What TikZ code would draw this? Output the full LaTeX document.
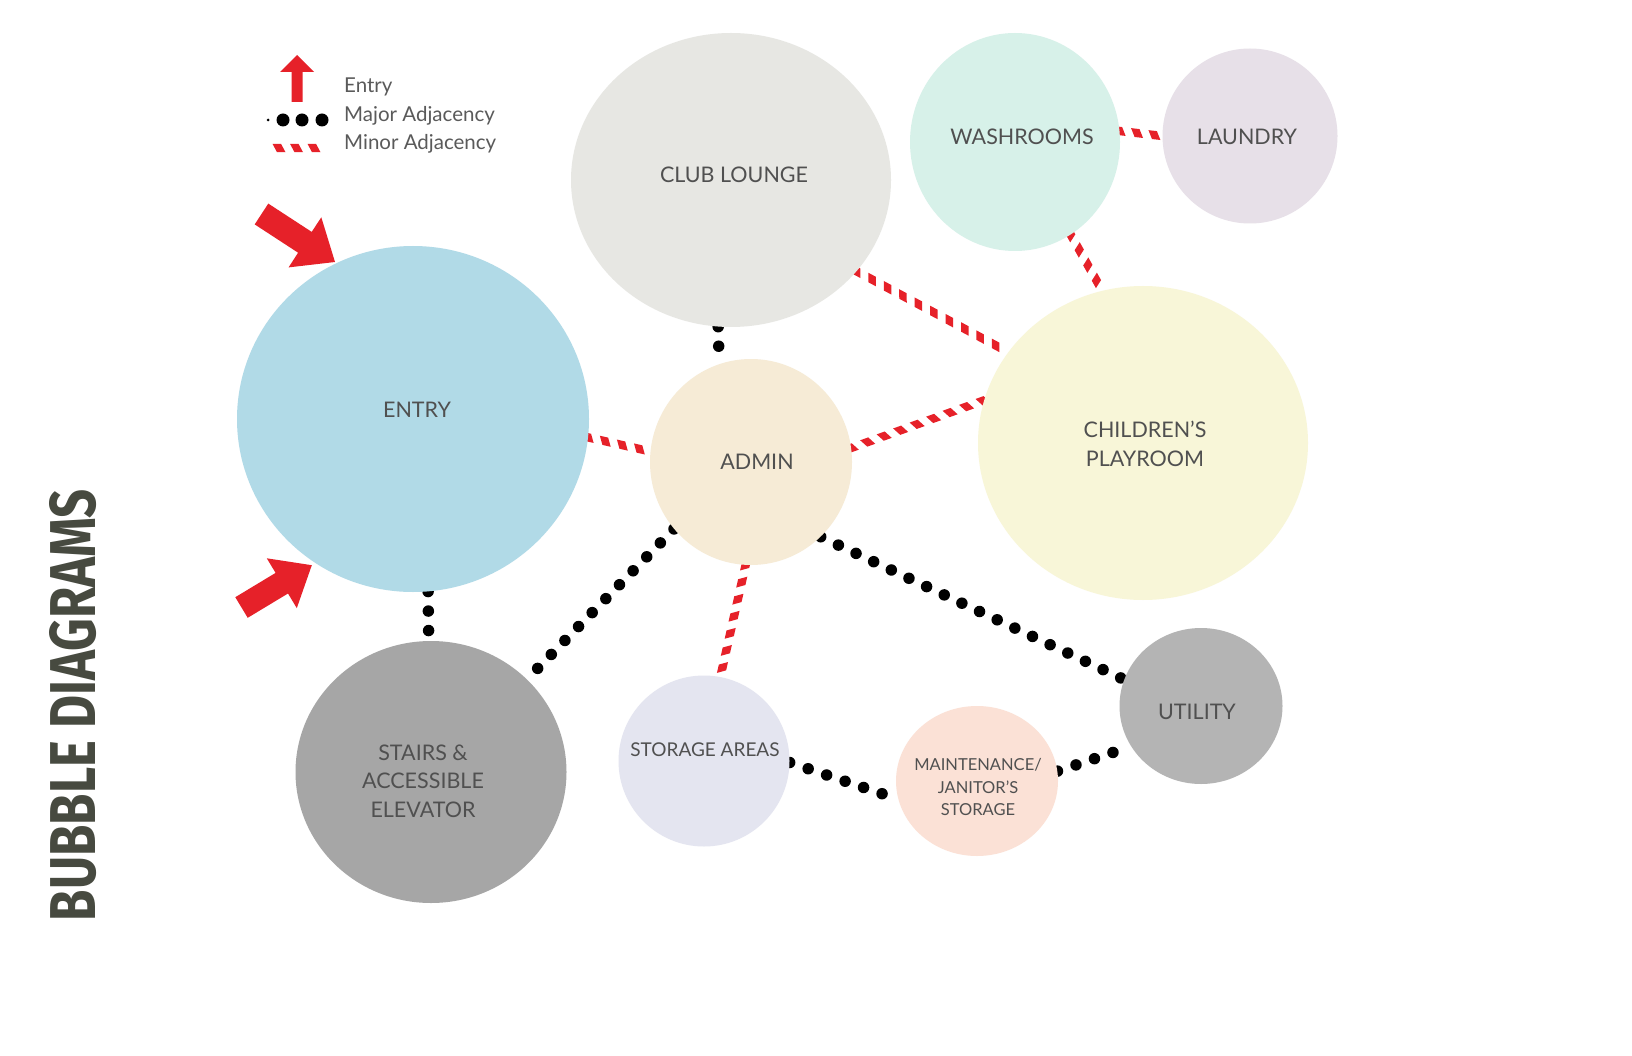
\documentclass[tikz,border=0pt]{standalone}
\usepackage{fontspec}
\usepackage{graphicx}
\setmainfont{Lato}
\newfontfamily\titlefont{Fira Sans}
\usetikzlibrary{shapes.geometric,decorations.markings}
\pgfdeclarelayer{background}
\pgfsetlayers{background,main}
\definecolor{cclub}{HTML}{E7E7E3}
\definecolor{cwash}{HTML}{D7F1E9}
\definecolor{claundry}{HTML}{E7E0E8}
\definecolor{centry}{HTML}{B1DAE7}
\definecolor{cadmin}{HTML}{F6EBD6}
\definecolor{cplay}{HTML}{F8F6D8}
\definecolor{cstairs}{HTML}{A6A6A6}
\definecolor{cstorage}{HTML}{E4E5F0}
\definecolor{cmaint}{HTML}{FBE1D6}
\definecolor{cutil}{HTML}{B4B4B4}
\definecolor{txt}{HTML}{505050}
\definecolor{legtxt}{HTML}{5A5A5A}
\definecolor{titlecol}{HTML}{474A40}
\definecolor{minred}{HTML}{E62129}
\tikzset{
  bubble/.style={ellipse, draw=none, inner sep=0pt},
  lbl/.style={text=txt, align=center, inner sep=0pt, font=\fontsize{21.5}{28.5}\selectfont},
  leglbl/.style={text=legtxt, anchor=base west, inner sep=0pt, font=\fontsize{20.5}{26}\selectfont},
  major/.style={draw=black, line width=11.5pt, line cap=round, dash pattern=on 0pt off 19.5pt},
  minor/.style={decorate, decoration={markings,
     mark=between positions 0 and 1 step 17.5pt with {\fill[minred] (-6.5,-4.2) -- (2,-4.2) -- (6.5,4.2) -- (-2,4.2) -- cycle;}}},
  redarrow/.style={fill=minred, draw=none}
}
\begin{document}
\begin{tikzpicture}[x=1pt,y=-1pt]
\useasboundingbox (0,0) rectangle (1632,1056);

% title
\node[rotate=90, text=titlecol, inner sep=0pt] (title) at (73,705)
  {\resizebox{432pt}{46pt}{\titlefont\bfseries BUBBLE DIAGRAMS}};

% legend
\fill[redarrow] (291.5,102) -- (291.5,72) -- (280,72) -- (297,55) -- (314,72) -- (302.5,72) -- (302.5,102) -- cycle;
\fill[black] (268,120) circle (1.5);
\fill[black] (283,120) circle (6.5);
\fill[black] (302,120) circle (6.5);
\fill[black] (322,120) circle (6.5);
\coordinate (lm1) at (279,148);
\coordinate (lm2) at (325,148);
\path[minor] (lm1) -- (lm2);
\node[leglbl] (leg1) at (344,93) {Entry};
\node[leglbl] (leg2) at (344,122) {Major Adjacency};
\node[leglbl] (leg3) at (344,150) {Minor Adjacency};

% entry arrows
\fill[redarrow] (268.3,203.6) -- (311.7,231.9) -- (321.3,217.3) -- (335,262) -- (288.6,267.4) -- (298.1,252.7) -- (254.7,224.4) -- cycle;
\fill[redarrow] (235.3,597.2) -- (275.6,572.9) -- (266.8,558.3) -- (311.8,565.2) -- (296.8,608.1) -- (288.0,593.5) -- (247.7,617.8) -- cycle;

% bubbles
\node[bubble, fill=cclub, minimum width=320pt, minimum height=294pt] (club) at (731,180) {};
\node[bubble, fill=cwash, minimum width=210pt, minimum height=218pt] (wash) at (1015,142) {};
\node[bubble, fill=claundry, minimum width=175pt, minimum height=175pt] (laundry) at (1250,136) {};
\node[bubble, fill=centry, minimum width=352pt, minimum height=346pt] (entry) at (413,419) {};
\node[bubble, fill=cadmin, minimum width=202pt, minimum height=206pt] (admin) at (751,462) {};
\node[bubble, fill=cplay, minimum width=330pt, minimum height=314pt] (play) at (1143,443) {};
\node[bubble, fill=cstairs, minimum width=271pt, minimum height=262pt] (stairs) at (431,772) {};
\node[bubble, fill=cstorage, minimum width=171pt, minimum height=171pt] (storage) at (704,761) {};
\node[bubble, fill=cmaint, minimum width=162pt, minimum height=150pt] (maint) at (977,781) {};
\node[bubble, fill=cutil, minimum width=163pt, minimum height=156pt] (utility) at (1201,706) {};

% labels
\node[lbl] (club-t) at (734,175) {CLUB LOUNGE};
\node[lbl] (wash-t) at (1022,137) {WASHROOMS};
\node[lbl] (laundry-t) at (1247,137) {LAUNDRY};
\node[lbl] (entry-t) at (417,410) {ENTRY};
\node[lbl] (admin-t) at (757,462) {ADMIN};
\node[lbl] (play-t) at (1145,444) {CHILDREN'S\\PLAYROOM};
\node[lbl] (stairs-t) at (423,781) {STAIRS \&\\ACCESSIBLE\\ELEVATOR};
\node[lbl, font=\fontsize{19}{24}\selectfont] (storage-t) at (705,750) {STORAGE AREAS};
\node[lbl, font=\fontsize{16.5}{22.5}\selectfont] (maint-t) at (978,787) {MAINTENANCE/\\JANITOR'S\\STORAGE};
\node[lbl] (utility-t) at (1197,712) {UTILITY};

% connectors
\begin{pgfonlayer}{background}
\fill[white] (0,0) rectangle (1632,1056);
\path[minor] (wash.6) -- (laundry.180);
\path[minor] (wash.-59) -- (play.105);
\path[minor] (club.-36) -- (play.146);
\draw[major] (club.-95) -- (admin.108);
\path[minor] (entry.-6.5) -- (admin.174);
\path[minor] (admin.8) -- (play.165);
\draw[major] (entry.-85) -- (stairs.91);
\draw[major] (admin.-139) -- (stairs.44);
\path[minor] (admin.-93) -- (storage.79);
\draw[major] (admin.-47) -- (utility.161);
\draw[major] (storage.-1) -- (maint.-167);
\draw[major] (maint.7) -- (utility.-150);
\end{pgfonlayer}
\end{tikzpicture}
\end{document}
